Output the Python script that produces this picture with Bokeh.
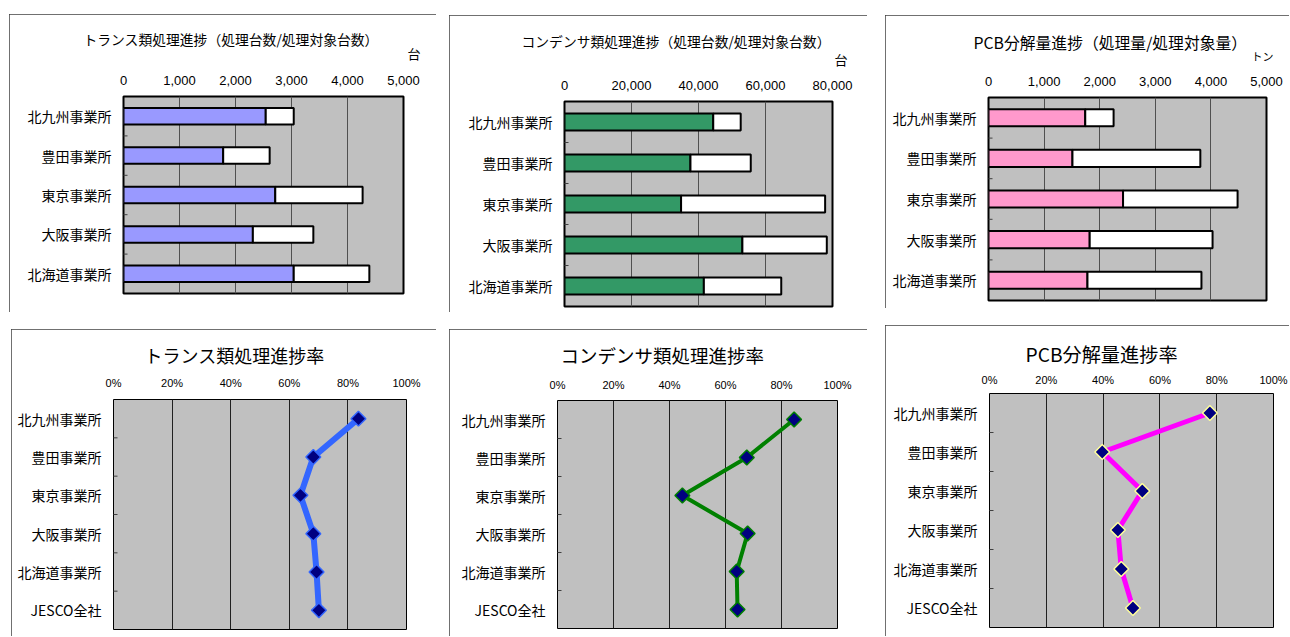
import math
from bokeh.plotting import figure
from bokeh.models import ColumnDataSource, FactorRange, Range1d, FixedTicker, NumeralTickFormatter, Title
from bokeh.layouts import row, column
from bokeh.transform import dodge
from bokeh.embed import file_html
from bokeh.resources import INLINE

# ---------------- data ----------------
sites = ["北九州事業所", "豊田事業所", "東京事業所", "大阪事業所", "北海道事業所"]
sites_all = ["北九州事業所", "豊田事業所", "東京事業所", "大阪事業所", "北海道事業所", "JESCO全社"]

trans_done = [2540, 1780, 2710, 2310, 3040]
trans_total = [3040, 2610, 4270, 3390, 4390]
cond_done = [44400, 37600, 34800, 53100, 41600]
cond_total = [52600, 55600, 77800, 78300, 64700]
pcb_done = [1740, 1510, 2420, 1820, 1780]
pcb_total = [2250, 3810, 4480, 4030, 3830]

trans_rate = [0.836, 0.682, 0.638, 0.682, 0.693, 0.701]
cond_rate = [0.845, 0.676, 0.446, 0.679, 0.640, 0.643]
pcb_rate = [0.776, 0.397, 0.538, 0.452, 0.464, 0.505]

ticks_5000 = [0, 1000, 2000, 3000, 4000, 5000]
ticks_80000 = [0, 20000, 40000, 60000, 80000]
ticks_pct = [0, 0.2, 0.4, 0.6, 0.8, 1.0]

titles_top = ["トランス類処理進捗（処理台数/処理対象台数）",
              "コンデンサ類処理進捗（処理台数/処理対象台数）",
              "PCB分解量進捗（処理量/処理対象量）"]
units_top = ["台", "台", "トン"]
titles_bottom = ["トランス類処理進捗率", "コンデンサ類処理進捗率", "PCB分解量進捗率"]

JP = "Noto Sans CJK JP"
NUM = "Liberation Sans"


def base_fig(w, h, yr, xr, mb, margin, hide_right=False, hide_bottom=False):
    p = figure(width=w, height=h, y_range=yr, x_range=xr, x_axis_location="above",
               output_backend="svg", toolbar_location=None,
               min_border_left=mb[0], min_border_right=mb[1],
               min_border_top=mb[2], min_border_bottom=mb[3])
    p.frame_align = False
    p.margin = margin
    p.background_fill_color = "#C0C0C0"
    p.border_fill_color = "white"
    p.outline_line_color = "black"
    p.ygrid.visible = False
    p.xgrid.grid_line_color = "#505050"
    p.xgrid.grid_line_width = 1
    for ax in (p.xaxis, p.yaxis):
        ax.axis_line_color = None
        ax.major_tick_line_color = None
        ax.minor_tick_line_color = None
        ax.major_tick_out = 0
        ax.major_tick_in = 0
        ax.major_label_text_color = "black"
    p.yaxis.major_label_text_font = JP
    p.yaxis.major_label_text_font_size = "14px"
    p.yaxis.major_label_standoff = 12
    p.xaxis.major_label_text_font = NUM
    styles = {"outline": "1px solid #404040", "outline-offset": "-1px"}
    if hide_right and hide_bottom:
        styles["clip-path"] = "inset(0px 1px 1px 0px)"
    elif hide_right:
        styles["clip-path"] = "inset(0px 1px 0px 0px)"
    elif hide_bottom:
        styles["clip-path"] = "inset(0px 0px 1px 0px)"
    p.styles = styles
    return p


def add_title(p, text, size, align, offset, standoff):
    p.add_layout(Title(text=text, text_font=JP, text_font_size=f"{size}px",
                       text_font_style="normal", text_color="black", align=align,
                       offset=offset, standoff=standoff), "above")


def boundary_ticks(p, cats):
    src = ColumnDataSource(dict(site=cats[:-1]))
    p.scatter(x=0, y=dodge("site", -0.5, range=p.y_range), marker="dash", size=8,
              line_color="#404040", line_width=1, source=src)


def bar_panel(done, total, ticks, color, title, unit, w, h, mb, margin, tsize, toff, tstand,
              usize, uoff, ustand, standoff, hide_right=False):
    p = base_fig(w, h, FactorRange(factors=list(reversed(sites))), Range1d(ticks[0], ticks[-1]),
                 mb, margin, hide_right=hide_right)
    p.outline_line_width = 2
    p.xaxis.ticker = FixedTicker(ticks=ticks)
    p.xaxis.formatter = NumeralTickFormatter(format="0,0")
    p.xaxis.major_label_text_font_size = "13px"
    p.xaxis.major_label_standoff = standoff
    src = ColumnDataSource(dict(site=sites, done=done, total=total))
    p.hbar(y="site", left=0, right="done", height=0.42, fill_color=color,
           line_color="black", line_width=2, source=src)
    p.hbar(y="site", left="done", right="total", height=0.42, fill_color="white",
           line_color="black", line_width=2, source=src)
    boundary_ticks(p, sites)
    add_title(p, unit, usize, "right", uoff, ustand)
    add_title(p, title, tsize, "left", toff, tstand)
    return p


def line_panel(rates, color, lw, edge, title, w, h, mb, margin, tsize, toff, tstand, standoff,
               hide_right=False):
    p = base_fig(w, h, FactorRange(factors=list(reversed(sites_all))), Range1d(0, 1),
                 mb, margin, hide_right=hide_right, hide_bottom=True)
    p.outline_line_width = 1
    p.xgrid.grid_line_color = "#202020"
    p.xaxis.ticker = FixedTicker(ticks=ticks_pct)
    p.xaxis.formatter = NumeralTickFormatter(format="0%")
    p.xaxis.major_label_text_font_size = "11px"
    p.xaxis.major_label_standoff = standoff
    src = ColumnDataSource(dict(site=sites_all, rate=rates))
    p.line(x="rate", y="site", line_color=color, line_width=lw, line_join="round", source=src)
    p.scatter(x="rate", y="site", marker="square", angle=math.pi / 4, size=10.5,
              fill_color="#000080", line_color=edge, line_width=1.5, source=src)
    boundary_ticks(p, sites_all)
    add_title(p, title, tsize, "left", toff, tstand)
    return p


p1 = bar_panel(trans_done, trans_total, ticks_5000, "#9999FF", titles_top[0], units_top[0],
               427, 298, (114, 33, 82, 19), (14, 0, 0, 9), 13.8, -40, -32, 13, -17, 19, 12)
p2 = bar_panel(cond_done, cond_total, ticks_80000, "#339966", titles_top[1], units_top[1],
               418, 297, (115, 35, 86, 6), (15, 0, 0, 13), 13.8, -43, -22, 13, -15, 17, 12)
p3 = bar_panel(pcb_done, pcb_total, ticks_5000, "#FF99CC", titles_top[2], units_top[2],
               405, 293, (103, 24, 82, 8), (15, 0, 4, 18), 15.8, -15, -34, 11, -7, 19, 12,
               hide_right=True)

p4 = line_panel(trans_rate, "#3366FF", 6, "#3366FF", titles_bottom[0],
                425, 308, (102, 30, 70, 8), (17, 0, 0, 11), 18, 31, 12, 11)
p5 = line_panel(cond_rate, "#008000", 4, "#008000", titles_bottom[1],
                418, 308, (108, 30, 71, 9), (17, 0, 0, 13), 18.5, 3, 15, 10)
p6 = line_panel(pcb_rate, "#FF00FF", 5, "#FFFF99", titles_bottom[2],
                405, 312, (104, 17, 68, 10), (13, 0, 0, 18), 19.2, 36, 6, 8, hide_right=True)

layout = column(row(p1, p2, p3), row(p4, p5, p6))

open("out.html", "w").write(file_html(layout, INLINE))
